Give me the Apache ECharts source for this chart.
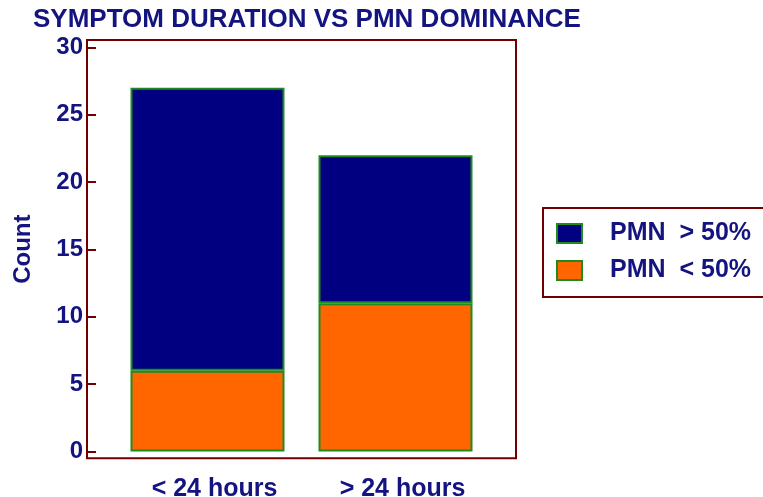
<!DOCTYPE html>
<html>
<head>
<meta charset="utf-8">
<script src="https://cdn.jsdelivr.net/npm/echarts@6/dist/echarts.min.js"></script>
<style>html,body{margin:0;padding:0;background:#fff;}#c{width:763px;height:497px;}</style>
</head>
<body>
<div id="c"></div>
<script>
const titleText = 'SYMPTOM DURATION VS PMN DOMINANCE';
const categories = ['< 24 hours', '> 24 hours'];
const seriesNames = ['PMN  > 50%', 'PMN  < 50%'];
const pmnOver50 = [21, 11];
const pmnUnder50 = [6, 11];
const yTicks = [0, 5, 10, 15, 20, 25, 30];

const navy = '#000080';
const orange = '#ff6600';
const green = '#1f8a1f';
const maroon = '#700000';
const textColor = '#141480';
const font = 'Liberation Sans, Arial, sans-serif';

const chart = echarts.init(document.getElementById('c'));
const yMin = -0.5, yMax = 30.55;
chart.setOption({
  animation: false,
  backgroundColor: '#fff',
  title: {
    text: titleText, left: 28, top: 2,
    textStyle: { color: textColor, fontFamily: font, fontWeight: 'bold', fontSize: 26 }
  },
  legend: {
    data: seriesNames,
    orient: 'vertical', left: 543, top: 208,
    padding: [13, 60, 14, 13],
    icon: 'rect',
    itemWidth: 25, itemHeight: 19, itemGap: 12,
    borderColor: maroon, borderWidth: 2,
    textStyle: { color: textColor, fontFamily: font, fontWeight: 'bold', fontSize: 25, padding: [0, 0, 0, 23] }
  },
  grid: [
    { left: 113.5, width: 376, top: 40, height: 418.3, show: false, outerBoundsMode: 'none', containLabel: false },
    { left: 87, width: 429, top: 40, height: 418.3, show: true, borderColor: maroon, borderWidth: 2, backgroundColor: 'transparent', outerBoundsMode: 'none', containLabel: false }
  ],
  xAxis: [
    { type: 'category', gridIndex: 0, data: categories,
      axisLine: { show: false }, axisTick: { show: false },
      axisLabel: { color: textColor, fontFamily: font, fontWeight: 'bold', fontSize: 25, margin: 18, padding: [0, 0, 0, 14] } },
    { type: 'value', gridIndex: 1, show: false }
  ],
  yAxis: [
    { type: 'value', gridIndex: 0, min: yMin, max: yMax, show: false },
    { type: 'value', gridIndex: 1, min: yMin, max: yMax,
      splitLine: { show: false },
      axisLine: { show: false },
      axisTick: { show: true, inside: true, length: 9, lineStyle: { color: maroon, width: 2 }, customValues: yTicks },
      axisLabel: { color: textColor, fontFamily: font, fontWeight: 'bold', fontSize: 24, margin: 4, customValues: yTicks },
      name: 'Count', nameLocation: 'middle', nameGap: 52, nameRotate: 90,
      nameTextStyle: { color: textColor, fontFamily: font, fontWeight: 'bold', fontSize: 24 } }
  ],
  series: [
    { name: seriesNames[1], type: 'bar', stack: 's', xAxisIndex: 0, yAxisIndex: 0, data: pmnUnder50, barWidth: 154,
      itemStyle: { color: orange, borderColor: green, borderWidth: 2 } },
    { name: seriesNames[0], type: 'bar', stack: 's', xAxisIndex: 0, yAxisIndex: 0, data: pmnOver50, barWidth: 154,
      itemStyle: { color: navy, borderColor: green, borderWidth: 2 } }
  ]
});
</script>
</body>
</html>
